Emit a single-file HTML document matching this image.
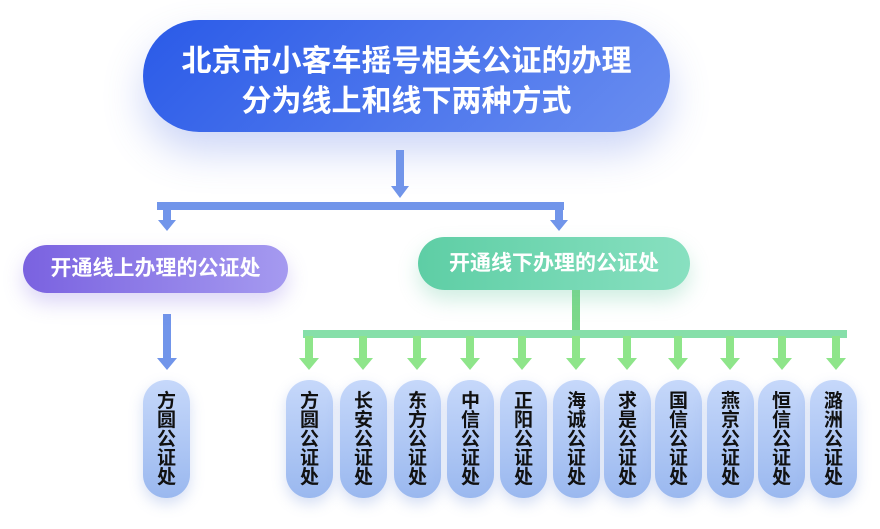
<!DOCTYPE html>
<html><head><meta charset="utf-8"><style>
body{margin:0;width:880px;height:529px;background:#fff;position:relative;overflow:hidden;font-family:"Liberation Sans","Noto Sans CJK SC",sans-serif}
.a{position:absolute}
.main{left:143px;top:20px;width:527px;height:112px;border-radius:56px;background:linear-gradient(135deg,#2a5ae8,#6a8ef0);color:#fff;font-weight:bold;font-size:30px;text-align:center;line-height:40px;box-sizing:border-box;padding-top:22px;box-shadow:0 20px 40px rgba(90,120,230,.3)}
.pl{left:23px;top:245px;width:265px;height:48px;border-radius:24px;background:linear-gradient(90deg,#7a62e0,#a59af0);color:#fff;font-weight:bold;font-size:21px;line-height:48px;text-align:center;box-shadow:0 10px 20px rgba(140,120,230,.3)}
.pr{left:418px;top:237px;width:272px;height:53px;border-radius:27px;background:linear-gradient(90deg,#5ecea5,#88e0c0);color:#fff;font-weight:bold;font-size:21px;line-height:53px;text-align:center;box-shadow:0 10px 20px rgba(100,200,160,.3)}
.v{top:380px;width:47px;height:118px;border-radius:23px;background:linear-gradient(180deg,#c6d8fa,#9ab8ef);color:#111;font-weight:bold;font-size:19px;line-height:19px;text-align:center;box-sizing:border-box;padding-top:12px;box-shadow:0 6px 14px rgba(120,150,220,.3)}
.v span{display:block;width:20px;margin:0 auto;word-break:break-all}
</style></head><body>
<div class="a main">北京市小客车摇号相关公证的办理<br>分为线上和线下两种方式</div>
<svg class="a" style="left:0;top:0" width="880" height="529">
<g fill="#7195ea">
<rect x="396" y="150" width="8" height="38"/><polygon points="391,186 409,186 400,198"/>
<rect x="157" y="202" width="407" height="8"/>
<rect x="163" y="208" width="8" height="14"/><polygon points="158,220 176,220 167,231"/>
<rect x="555" y="208" width="8" height="14"/><polygon points="550,220 568,220 559,231"/>
<rect x="163" y="314" width="8" height="46"/><polygon points="157,358 177,358 167,370"/>
</g>
<rect x="572" y="290" width="8" height="44" fill="#7cd98a"/>
<rect x="303" y="330" width="544" height="8" fill="#86dfa9"/>
</svg>
<div class="a pl">开通线上办理的公证处</div>
<div class="a pr">开通线下办理的公证处</div>
<div class="a v" style="left:143px"><span>方圆公证处</span></div>
<svg class="a" style="left:0;top:0" width="880" height="529">
<g fill="#8ee58a">
<path d="M305 336h8v22h6l-10 12l-10-12h6z"/>
<path d="M359 336h8v22h6l-10 12l-10-12h6z"/>
<path d="M413 336h8v22h6l-10 12l-10-12h6z"/>
<path d="M466 336h8v22h6l-10 12l-10-12h6z"/>
<path d="M518 336h8v22h6l-10 12l-10-12h6z"/>
<path d="M572 336h8v22h6l-10 12l-10-12h6z"/>
<path d="M623 336h8v22h6l-10 12l-10-12h6z"/>
<path d="M674 336h8v22h6l-10 12l-10-12h6z"/>
<path d="M726 336h8v22h6l-10 12l-10-12h6z"/>
<path d="M778 336h8v22h6l-10 12l-10-12h6z"/>
<path d="M832 336h8v22h6l-10 12l-10-12h6z"/>
</g></svg>
<div class="a v" style="left:286px"><span>方圆公证处</span></div>
<div class="a v" style="left:340px"><span>长安公证处</span></div>
<div class="a v" style="left:394px"><span>东方公证处</span></div>
<div class="a v" style="left:447px"><span>中信公证处</span></div>
<div class="a v" style="left:500px"><span>正阳公证处</span></div>
<div class="a v" style="left:553px"><span>海诚公证处</span></div>
<div class="a v" style="left:604px"><span>求是公证处</span></div>
<div class="a v" style="left:655px"><span>国信公证处</span></div>
<div class="a v" style="left:707px"><span>燕京公证处</span></div>
<div class="a v" style="left:758px"><span>恒信公证处</span></div>
<div class="a v" style="left:810px"><span>潞洲公证处</span></div>
</body></html>
